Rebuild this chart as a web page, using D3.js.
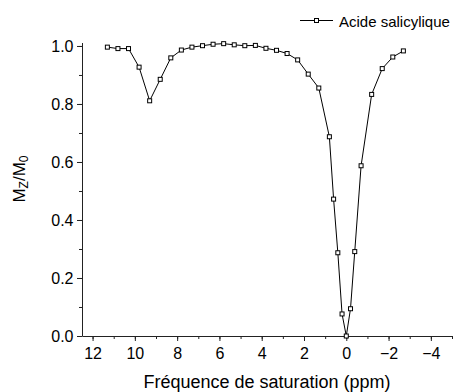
<!DOCTYPE html>
<html><head><meta charset="utf-8">
<script src="https://cdn.jsdelivr.net/npm/d3@7"></script>
<style>
body{margin:0;background:#fff;}
svg{display:block;font-family:"Liberation Sans",Arial,sans-serif;}
</style></head>
<body>
<svg id="chart" width="454" height="392"></svg>
<script>
const freq = [11.3,10.8,10.3,9.8,9.3,8.8,8.3,7.8,7.3,6.8,6.3,5.8,5.3,4.8,4.3,3.8,3.3,2.8,2.3,1.8,1.3,0.8,0.6,0.4,0.2,0,-0.2,-0.4,-0.7,-1.2,-1.7,-2.2,-2.7];
const mz = [0.996,0.991,0.991,0.927,0.811,0.885,0.959,0.986,0.996,1.001,1.006,1.008,1.004,1.001,1.002,0.992,0.985,0.974,0.952,0.903,0.855,0.687,0.472,0.287,0.076,0.0,0.094,0.291,0.587,0.833,0.922,0.962,0.983];
const xTicks = [12,10,8,6,4,2,0,-2,-4];
const xMinor = [12,11,10,9,8,7,6,5,4,3,2,1,0,-1,-2,-3,-4,-5];
const yTicks = [0,0.2,0.4,0.6,0.8,1.0];
const yMinor = [0,0.1,0.2,0.3,0.4,0.5,0.6,0.7,0.8,0.9,1.0];
const seriesName = "Acide salicylique";
const xTitle = "Fréquence de saturation (ppm)";

const svg = d3.select("#chart");
const x = d3.scaleLinear().domain([12.5,-5]).range([82,452]);
const y = d3.scaleLinear().domain([0,1.012]).range([336,42.5]);
const axisColor = "#222";

// minor ticks
const gxm = svg.append("g").attr("transform","translate(0,336)")
  .call(d3.axisBottom(x).tickValues(xMinor).tickSize(3).tickFormat(""));
const gym = svg.append("g").attr("transform","translate(82,0)")
  .call(d3.axisLeft(y).tickValues(yMinor).tickSize(3).tickFormat(""));
[gxm,gym].forEach(g=>{g.select(".domain").remove(); g.selectAll("line").attr("stroke",axisColor);});

const gx = svg.append("g").attr("transform","translate(0,336)")
  .call(d3.axisBottom(x).tickValues(xTicks).tickSize(5).tickSizeOuter(0).tickPadding(6.5).tickFormat(d3.format("d")));
const gy = svg.append("g").attr("transform","translate(82,0)")
  .call(d3.axisLeft(y).tickValues(yTicks).tickSize(5).tickSizeOuter(0).tickPadding(3.5).tickFormat(d3.format(".1f")));
[gx,gy].forEach(g=>{
  g.select(".domain").attr("stroke",axisColor);
  g.selectAll("line").attr("stroke",axisColor);
  g.selectAll("text").attr("font-size",16).attr("fill","#000").attr("font-family","Liberation Sans, Arial, sans-serif");
});

// line + markers
const line = d3.line().x((d,i)=>x(freq[i])).y(d=>y(d));
svg.append("path").datum(mz).attr("d",line).attr("fill","none").attr("stroke","#000").attr("stroke-width",1);
svg.append("g").selectAll("rect").data(mz).join("rect")
  .attr("x",(d,i)=>x(freq[i])-2).attr("y",d=>y(d)-2)
  .attr("width",4).attr("height",4).attr("fill","#fff").attr("stroke","#000").attr("stroke-width",1);

// axis titles
svg.append("text").attr("x",267).attr("y",388).attr("text-anchor","middle")
  .attr("font-size",18).text(xTitle);
const yt = svg.append("text").attr("transform","translate(25,179) rotate(-90)")
  .attr("text-anchor","middle").attr("font-size",17);
yt.append("tspan").text("M");
yt.append("tspan").attr("font-size",12).attr("dy",3).text("Z");
yt.append("tspan").attr("dy",-3).text("/M");
yt.append("tspan").attr("font-size",12).attr("dy",3).text("0");

// legend
const lg = svg.append("g");
lg.append("line").attr("x1",300).attr("x2",333).attr("y1",20.5).attr("y2",20.5).attr("stroke","#000");
lg.append("rect").attr("x",314.5).attr("y",18.5).attr("width",4).attr("height",4).attr("fill","#fff").attr("stroke","#000");
lg.append("text").attr("x",339).attr("y",26.5).attr("font-size",15).text(seriesName);
</script>
</body></html>
